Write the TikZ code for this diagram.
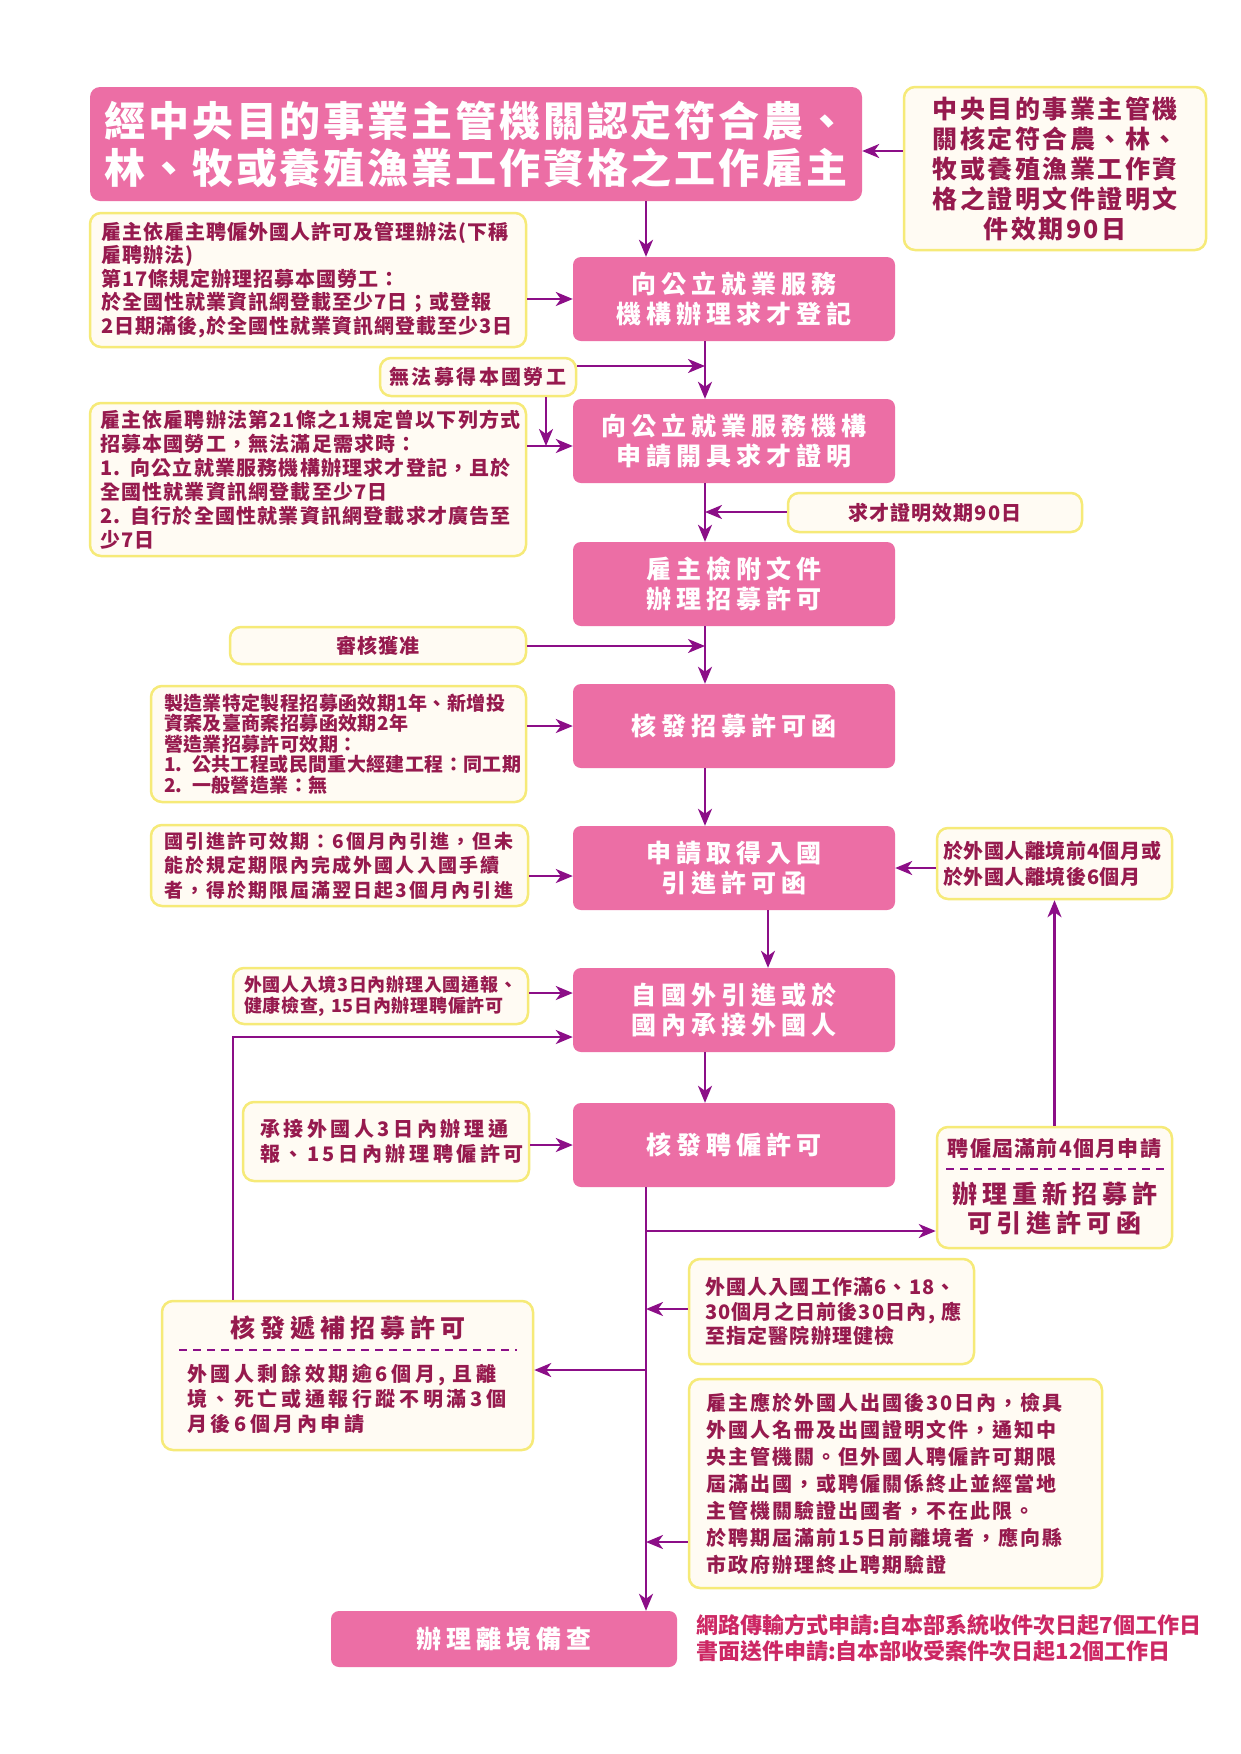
\documentclass[tikz,border=0pt]{standalone}
\usepackage{fontspec}
\setmainfont{Noto Sans CJK TC}
\usetikzlibrary{arrows.meta}
\definecolor{pinkbox}{RGB}{236,110,165}
\definecolor{purp}{RGB}{140,14,135}
\definecolor{cream}{RGB}{255,251,243}
\definecolor{nborder}{RGB}{246,234,120}
\definecolor{ntext}{RGB}{150,26,78}
\definecolor{ftext}{RGB}{205,40,100}
\newcommand\NoteFont[3]{\bfseries\fontsize{#1}{#2}\selectfont\addfontfeature{LetterSpace=#3}}
\tikzset{
  mainbox/.style={rectangle, rounded corners=8pt, fill=pinkbox, text=white, align=center, inner sep=0pt, minimum width=322pt, minimum height=84pt, font={\NoteFont{25}{30}{20}}},
  notebox/.style={rectangle, rounded corners=11pt, fill=cream, draw=nborder, line width=2.5pt, text=ntext, inner sep=0pt},
  arr/.style={draw=purp, line width=2.4pt, -{Stealth[length=17pt,width=14pt,inset=5pt]}},
  dsh/.style={draw=purp, line width=2pt, dash pattern=on 8pt off 6pt},
}
\begin{document}
\begin{tikzpicture}[x=1pt,y=-1pt]
\fill[white] (0,0) rectangle (1241,1754);
\useasboundingbox (0,0) rectangle (1241,1754);

% title and main boxes
\node[mainbox, rounded corners=10pt, minimum width=772pt, minimum height=114pt, font={\NoteFont{41}{47}{7}}] (T) at (476,144) {經中央目的事業主管機關認定符合農、\\林、牧或養殖漁業工作資格之工作雇主};
\node[mainbox] (M1) at (734,299) {向公立就業服務\\機構辦理求才登記};
\node[mainbox] (M2) at (734,441) {向公立就業服務機構\\申請開具求才證明};
\node[mainbox] (M3) at (734,584) {雇主檢附文件\\辦理招募許可};
\node[mainbox] (M4) at (734,726) {核發招募許可函};
\node[mainbox] (M5) at (734,868) {申請取得入國\\引進許可函};
\node[mainbox] (M6) at (734,1010) {自國外引進或於\\國內承接外國人};
\node[mainbox] (M7) at (734,1145) {核發聘僱許可};
\node[mainbox, minimum width=346pt, minimum height=56pt] (M8) at (504,1639) {辦理離境備查};

% notes
\node[notebox, minimum width=302pt, minimum height=163pt, align=center, font={\NoteFont{25}{30}{10}}] (N0) at (1055,168.5) {中央目的事業主管機\\關核定符合農、林、\\牧或養殖漁業工作資\\格之證明文件證明文\\件效期90日};
\node[notebox, inner xsep=11pt, text width=414pt, minimum height=134pt, align=left, font={\NoteFont{20}{23.5}{5}}] (N1) at (308,280) {雇主依雇主聘僱外國人許可及管理辦法(下稱\\雇聘辦法)\\第17條規定辦理招募本國勞工：\\於全國性就業資訊網登載至少7日；或登報\\2日期滿後,於全國性就業資訊網登載至少3日};
\node[notebox, minimum width=196pt, minimum height=38pt, font={\NoteFont{20}{24}{12}}] (N2) at (478,377) {無法募得本國勞工};
\node[notebox, inner xsep=10pt, text width=416pt, minimum height=153pt, align=left, font={\NoteFont{20}{24}{6}}] (N3) at (308,479.5) {雇主依雇聘辦法第21條之1規定曾以下列方式\\招募本國勞工，無法滿足需求時：\\1. 向公立就業服務機構辦理求才登記，且於\\全國性就業資訊網登載至少7日\\2. 自行於全國性就業資訊網登載求才廣告至\\少7日};
\node[notebox, minimum width=294pt, minimum height=39pt, font={\NoteFont{20}{24}{5}}] (N4) at (935,512.5) {求才證明效期90日};
\node[notebox, minimum width=296pt, minimum height=37pt, font={\NoteFont{20}{24}{5}}] (N5) at (378,645.5) {審核獲准};
\node[notebox, inner xsep=13pt, text width=349pt, minimum height=116pt, align=left, font={\NoteFont{19}{20.5}{2}}] (N6) at (338.5,744) {製造業特定製程招募函效期1年、新增投\\資案及臺商案招募函效期2年\\營造業招募許可效期：\\1. 公共工程或民間重大經建工程：同工期\\2. 一般營造業：無};
\node[notebox, inner xsep=13pt, text width=351pt, minimum height=81pt, align=left, font={\NoteFont{19}{24.6}{11}}] (N7) at (339.5,865.5) {國引進許可效期：6個月內引進，但未\\能於規定期限內完成外國人入國手續\\者，得於期限屆滿翌日起3個月內引進};
\node[notebox, inner xsep=6pt, text width=223pt, minimum height=71pt, align=left, font={\NoteFont{20}{26}{3}}] (N8) at (1054.5,863.5) {於外國人離境前4個月或\\於外國人離境後6個月};
\node[notebox, inner xsep=11pt, text width=273pt, minimum height=56pt, align=left, font={\NoteFont{18}{21}{4}}] (N9) at (380.5,996) {外國人入境3日內辦理入國通報、\\健康檢查, 15日內辦理聘僱許可};
\node[notebox, inner xsep=17pt, text width=252pt, minimum height=79pt, align=left, font={\NoteFont{20}{25}{18}}] (N10) at (386,1141.5) {承接外國人3日內辦理通\\報、15日內辦理聘僱許可};
\node[notebox, minimum width=235pt, minimum height=121pt] (N11) at (1054.5,1187.5) {};
\node[text=ntext, font={\NoteFont{21}{24}{6}}] (N11a) at (1054.5,1149) {聘僱屆滿前4個月申請};
\draw[dsh] (946,1169) -- (1164,1169);
\node[text=ntext, align=center, font={\NoteFont{25}{29}{20}}] (N11b) at (1054.5,1208.5) {辦理重新招募許\\可引進許可函};
\node[notebox, minimum width=371pt, minimum height=149pt] (N12) at (347.5,1375.5) {};
\node[text=ntext, font={\NoteFont{25}{30}{20}}] (N12a) at (347.5,1328) {核發遞補招募許可};
\draw[dsh] (179,1350) -- (517,1350);
\node[text=ntext, anchor=west, inner sep=0pt, text width=335pt, align=left, font={\NoteFont{20}{25}{18}}] (N12b) at (187,1399) {外國人剩餘效期逾6個月,~且離\\境、死亡或通報行蹤不明滿3個\\月後6個月內申請};
\node[notebox, inner xsep=16pt, text width=253pt, minimum height=105pt, align=left, font={\NoteFont{20}{24.6}{6}}] (N13) at (831.5,1311.5) {外國人入國工作滿6、18、\\30個月之日前後30日內,~應\\至指定醫院辦理健檢};
\node[notebox, inner xsep=17pt, text width=379pt, minimum height=209pt, align=left, font={\NoteFont{20}{27}{10}}] (N14) at (895.5,1483.5) {雇主應於外國人出國後30日內，檢具\\外國人名冊及出國證明文件，通知中\\央主管機關。但外國人聘僱許可期限\\屆滿出國，或聘僱關係終止並經當地\\主管機關驗證出國者，不在此限。\\於聘期屆滿前15日前離境者，應向縣\\市政府辦理終止聘期驗證};
\node[anchor=west, inner sep=0pt, align=left, text=ftext, font={\NoteFont{22}{26}{0}}] (FT) at (696,1638) {網路傳輸方式申請:自本部系統收件次日起7個工作日\\書面送件申請:自本部收受案件次日起12個工作日};

% junction coordinates
\coordinate (cA) at (705,366);
\coordinate (cB) at (546,446);
\coordinate (cC) at (705,512);
\coordinate (cD) at (705,646);
\coordinate (cE) at (233,1037);
\coordinate (cF) at (646,1231);
\coordinate (cG) at (646,1309);
\coordinate (cH) at (646,1370);
\coordinate (cI) at (646,1542);

% connectors
\draw[arr] (N0.west |- 0,151) -- (T.east |- 0,151);
\draw[arr] (T.south -| cF) -- (M1.north -| cF);
\draw[arr] (N1.east |- M1.west) -- (M1.west);
\draw[arr] (M1.south -| cA) -- (M2.north -| cA);
\draw[arr] (N2.east |- cA) -- (cA);
\draw[arr] (N2.south -| cB) -- (cB);
\draw[arr] (N3.east |- cB) -- (M2.west |- cB);
\draw[arr] (M2.south -| cC) -- (M3.north -| cC);
\draw[arr] (N4.west |- cC) -- (cC);
\draw[arr] (M3.south -| cD) -- (M4.north -| cD);
\draw[arr] (N5.east |- cD) -- (cD);
\draw[arr] (N6.east |- M4.west) -- (M4.west);
\draw[arr] (M4.south -| cD) -- (M5.north -| cD);
\draw[arr] (N7.east |- 0,876) -- (M5.west |- 0,876);
\draw[arr] (N8.west |- M5.east) -- (M5.east);
\draw[arr] (M5.south -| 768,0) -- (M6.north -| 768,0);
\draw[arr] (N9.east |- 0,993) -- (M6.west |- 0,993);
\draw[arr] (N12.north -| cE) -- (cE) -- (M6.west |- cE);
\draw[arr] (M6.south -| cA) -- (M7.north -| cA);
\draw[arr] (N10.east |- M7.west) -- (M7.west);
\draw[arr] (M7.south -| cF) -- (M8.north -| cF);
\draw[arr] (cF) -- (N11.west |- cF);
\draw[arr] (N11.north) -- (N8.south);
\draw[arr] (N13.west |- cG) -- (cG);
\draw[arr] (cH) -- (N12.east |- cH);
\draw[arr] (N14.west |- cI) -- (cI);
\end{tikzpicture}
\end{document}
